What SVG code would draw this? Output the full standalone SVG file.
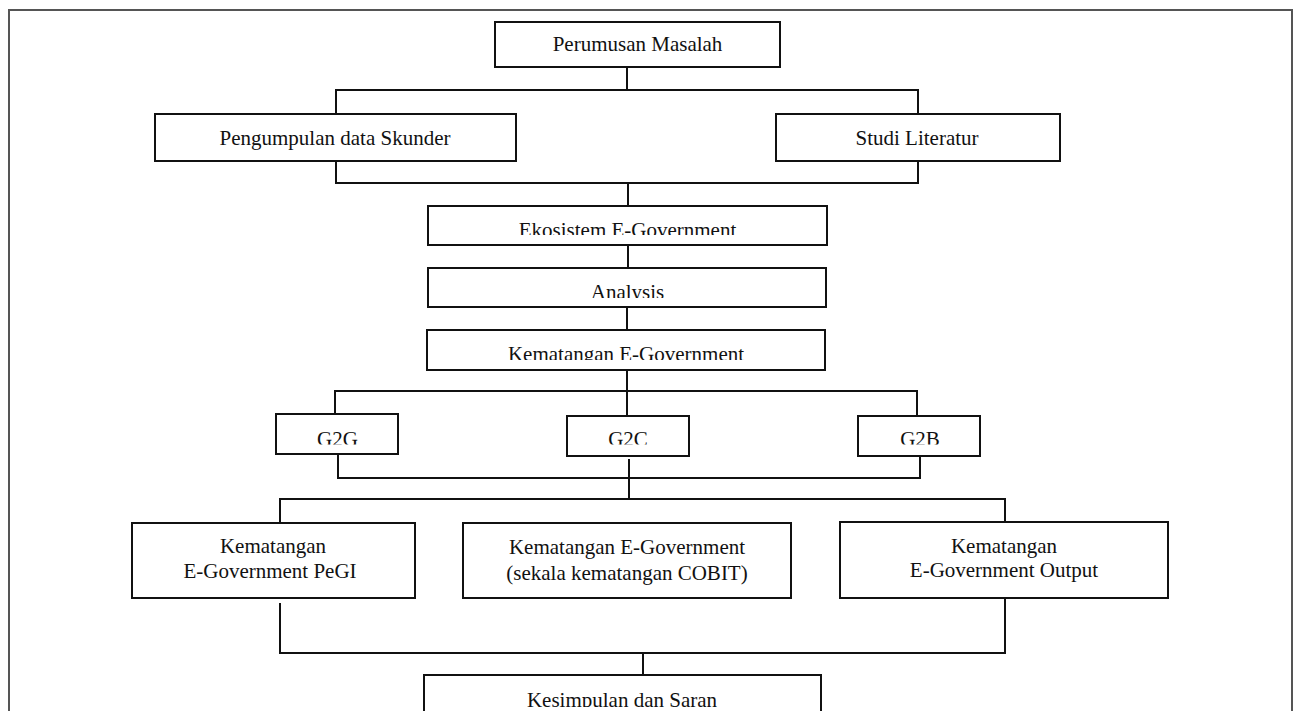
<svg xmlns="http://www.w3.org/2000/svg" width="1298" height="711" viewBox="0 0 1298 711">
<style>
.box{fill:#fff;stroke:#111;stroke-width:2}
.ln{fill:none;stroke:#111;stroke-width:2}
.t{font-family:"Liberation Serif","Times New Roman",serif;font-size:21px;fill:#111;text-anchor:middle}
</style>
<defs>
<clipPath id="c1"><rect x="0" y="200" width="1298" height="35"/></clipPath>
<clipPath id="c2"><rect x="0" y="270" width="1298" height="28"/></clipPath>
<clipPath id="c3"><rect x="0" y="332" width="1298" height="28"/></clipPath>
<clipPath id="c4"><rect x="0" y="418" width="1298" height="26.5"/></clipPath>
<clipPath id="c5"><rect x="0" y="677" width="1298" height="30"/></clipPath>
</defs>
<rect width="1298" height="711" fill="#fff"/>
<path d="M9,730 V10 H1292 V730" fill="none" stroke="#555" stroke-width="2"/>
<g id="connectors">
<path class="ln" d="M627,67 V90 M336,114 V90 H918 V114"/>
<path class="ln" d="M336,161 V183 H918 V161 M628,183 V206"/>
<path class="ln" d="M628,245 V268 M627,307 V330 M627,370 V391"/>
<path class="ln" d="M335,414 V391 H917 V416 M627,391 V416"/>
<path class="ln" d="M338,454 V478 H920 V456 M629,459 V499"/>
<path class="ln" d="M280,523 V499 H1005 V522"/>
<path class="ln" d="M280,603 V653 H1005 V598 M643,653 V675"/>
</g>
<g id="perumusan"><rect class="box" x="495" y="22" width="285" height="45"/><text class="t" x="637.5" y="51">Perumusan Masalah</text></g>
<g id="pengumpulan"><rect class="box" x="155" y="114" width="361" height="47"/><text class="t" x="335" y="145">Pengumpulan data Skunder</text></g>
<g id="studi"><rect class="box" x="776" y="114" width="284" height="47"/><text class="t" x="917" y="145">Studi Literatur</text></g>
<g id="ekosistem"><rect class="box" x="428" y="206" width="399" height="39"/><text class="t" x="627.5" y="237" clip-path="url(#c1)">Ekosistem E-Government</text></g>
<g id="analysis"><rect class="box" x="428" y="268" width="398" height="39"/><text class="t" x="627.5" y="299" clip-path="url(#c2)">Analysis</text></g>
<g id="kematangan"><rect class="box" x="427" y="330" width="398" height="40"/><text class="t" x="626" y="361" clip-path="url(#c3)">Kematangan E-Government</text></g>
<g id="g2g"><rect class="box" x="276" y="414" width="122" height="40"/><text class="t" x="337.5" y="446" clip-path="url(#c4)">G2G</text></g>
<g id="g2c"><rect class="box" x="567" y="416" width="122" height="40"/><text class="t" x="628" y="446" clip-path="url(#c4)">G2C</text></g>
<g id="g2b"><rect class="box" x="858" y="416" width="122" height="40"/><text class="t" x="920" y="446" clip-path="url(#c4)">G2B</text></g>
<g id="pegi"><rect class="box" x="132" y="523" width="283" height="75"/><text class="t" x="273" y="553">Kematangan</text><text class="t" x="270" y="578">E-Government PeGI</text></g>
<g id="cobit"><rect class="box" x="463" y="523" width="328" height="75"/><text class="t" x="627" y="554">Kematangan E-Government</text><text class="t" x="627" y="580">(sekala kematangan COBIT)</text></g>
<g id="output"><rect class="box" x="840" y="522" width="328" height="76"/><text class="t" x="1004" y="553">Kematangan</text><text class="t" x="1004" y="577">E-Government Output</text></g>
<g id="kesimpulan"><rect class="box" x="424" y="675" width="397" height="60"/><text class="t" x="622" y="707" clip-path="url(#c5)">Kesimpulan dan Saran</text></g>
</svg>
